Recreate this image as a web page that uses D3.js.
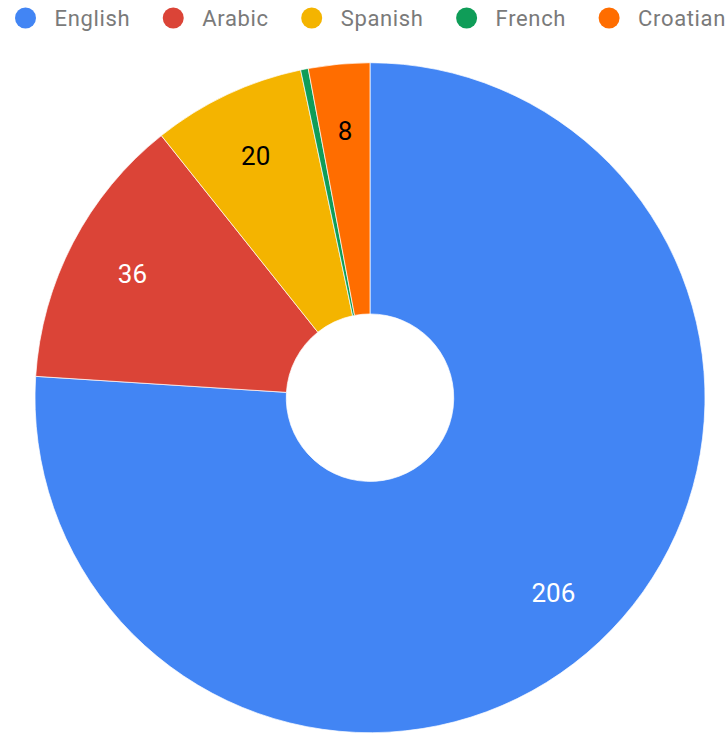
<!DOCTYPE html>
<html>
<head>
<meta charset="utf-8">
<script src="https://cdn.jsdelivr.net/npm/d3@7"></script>
<style>
  html, body { margin: 0; padding: 0; background: #fff; }
  svg { display: block; }
</style>
</head>
<body>
<div id="chart"></div>
<script>
// Speaker counts by language
const languages = ["English", "Arabic", "Spanish", "French", "Croatian"];
const counts = [206, 36, 20, 1, 8];
const colors = ["#4285f4", "#db4437", "#f4b400", "#0f9d58", "#ff6d00"];
const labelColors = ["#ffffff", "#ffffff", "#000000", "#000000", "#000000"];

const width = 727, height = 735;
const cx = 370, cy = 397.7;
const outerR = 335;
const innerR = outerR * 0.25;
const labelR = outerR * 0.8;

const svg = d3.select("#chart").append("svg")
  .attr("width", width)
  .attr("height", height)
  .style("font-family", "Roboto, sans-serif");

// Legend along the top
const legend = svg.append("g").attr("class", "legend");
let x = 25.5;
languages.forEach((name, i) => {
  const item = legend.append("g");
  item.append("circle")
    .attr("cx", x).attr("cy", 18).attr("r", 10.5)
    .attr("fill", colors[i]);
  const t = item.append("text")
    .attr("x", x + 29).attr("y", 18)
    .attr("dy", "0.355em")
    .attr("font-size", 22)
    .attr("letter-spacing", 0.65)
    .attr("fill", "#7a7a7a")
    .text(name);
  x = x + 29 + t.node().getComputedTextLength() + 43;
});

// Donut
const pie = d3.pie().sort(null).value(d => d)(counts);
const arc = d3.arc().innerRadius(innerR).outerRadius(outerR);
const labelArc = d3.arc().innerRadius(labelR).outerRadius(labelR);

const g = svg.append("g").attr("transform", `translate(${cx},${cy})`);

g.selectAll("path.slice")
  .data(pie)
  .join("path")
  .attr("class", "slice")
  .attr("d", arc)
  .attr("fill", (d, i) => colors[i])
  .attr("stroke", "#ffffff")
  .attr("stroke-width", 0.7);

// Value labels on slices large enough to hold them
g.selectAll("text.value")
  .data(pie.filter(d => d.endAngle - d.startAngle > 0.05))
  .join("text")
  .attr("class", "value")
  .attr("transform", d => `translate(${labelArc.centroid(d)})`)
  .attr("text-anchor", "middle")
  .attr("dy", "0.355em")
  .attr("font-size", 26)
  .attr("fill", d => labelColors[d.index])
  .text(d => d.data);
</script>
</body>
</html>
